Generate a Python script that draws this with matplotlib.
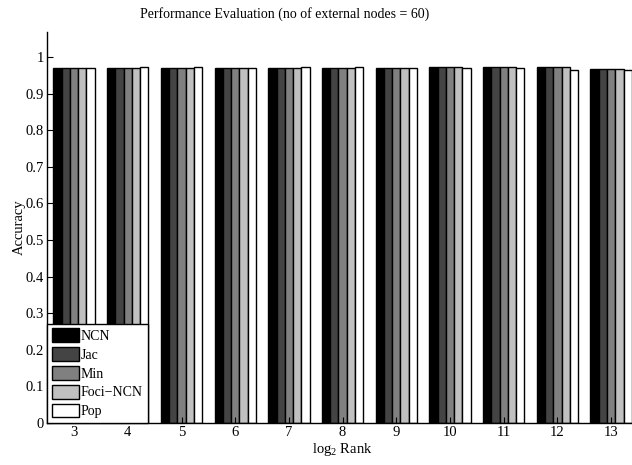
import numpy as np
import matplotlib
matplotlib.use("Agg")
import matplotlib.pyplot as plt

plt.rcParams['font.family'] = ['Liberation Serif', 'DejaVu Serif']
plt.rcParams['mathtext.fontset'] = 'custom'
plt.rcParams['mathtext.rm'] = 'Liberation Serif'
plt.rcParams['mathtext.it'] = 'Liberation Serif:italic'

ranks = [3, 4, 5, 6, 7, 8, 9, 10, 11, 12, 13]
series_names = ["NCN", "Jac", "Min", "Foci\u2212NCN", "Pop"]
ncn  = [0.970, 0.970, 0.970, 0.970, 0.970, 0.970, 0.971, 0.972, 0.972, 0.972, 0.968]
jac  = [0.970, 0.970, 0.970, 0.970, 0.970, 0.970, 0.971, 0.972, 0.972, 0.972, 0.968]
mini = [0.970, 0.970, 0.970, 0.970, 0.970, 0.970, 0.971, 0.972, 0.972, 0.972, 0.968]
foci = [0.970, 0.970, 0.970, 0.970, 0.970, 0.970, 0.971, 0.972, 0.972, 0.972, 0.968]
pop  = [0.970, 0.972, 0.972, 0.970, 0.972, 0.972, 0.971, 0.971, 0.970, 0.965, 0.964]
colors = ["#000000", "#444444", "#808080", "#c0c0c0", "#ffffff"]

fig = plt.figure(figsize=(6.32, 4.65), dpi=100)
ax = fig.add_axes([46.7/632, 42/465, (638-46.7)/632, (423-32)/465])

data = [ncn, jac, mini, foci, pop]
n = len(data)
gw = n / (n + 1.5)
bw = gw / n
x = np.array(ranks, dtype=float)
for i, (vals, c, name) in enumerate(zip(data, colors, series_names)):
    off = -gw / 2 + bw * (i + 0.5)
    ax.bar(x + off, vals, width=bw, color=c, edgecolor="black", linewidth=1.0, label=name)

ax.set_xlim(2.49, 13.5)
ax.set_ylim(0, 1.068)
ax.set_xticks(ranks)
ax.set_xticklabels([str(r) for r in ranks])
ax.set_yticks(np.arange(0, 1.01, 0.1))
ax.set_yticklabels(["0", "0.1", "0.2", "0.3", "0.4", "0.5", "0.6", "0.7", "0.8", "0.9", "1"])
ax.tick_params(direction="in", length=4, width=0.8, labelsize=10.5, pad=2)
ax.spines["top"].set_visible(False)
ax.spines["right"].set_visible(False)
ax.spines["left"].set_linewidth(1.0)
ax.spines["bottom"].set_linewidth(1.0)

ax.set_xlabel("log$_2$ Rank", fontsize=10.5)
ax.xaxis.set_label_coords(0.5, -0.045)
ax.set_ylabel("Accuracy", fontsize=10.5)
ax.yaxis.set_label_coords(-0.035, 0.5)
ax.set_title("Performance Evaluation (no of external nodes = 60)", fontsize=10, x=0.402, pad=10)

leg = ax.legend(loc="lower left", borderaxespad=0, fontsize=10, handlelength=2.0,
                handleheight=1.15, handletextpad=0.12, labelspacing=0.3,
                borderpad=0.35, fancybox=False, framealpha=1, edgecolor="black")
leg.get_frame().set_linewidth(1.0)

fig.savefig("out.png", dpi=100)
